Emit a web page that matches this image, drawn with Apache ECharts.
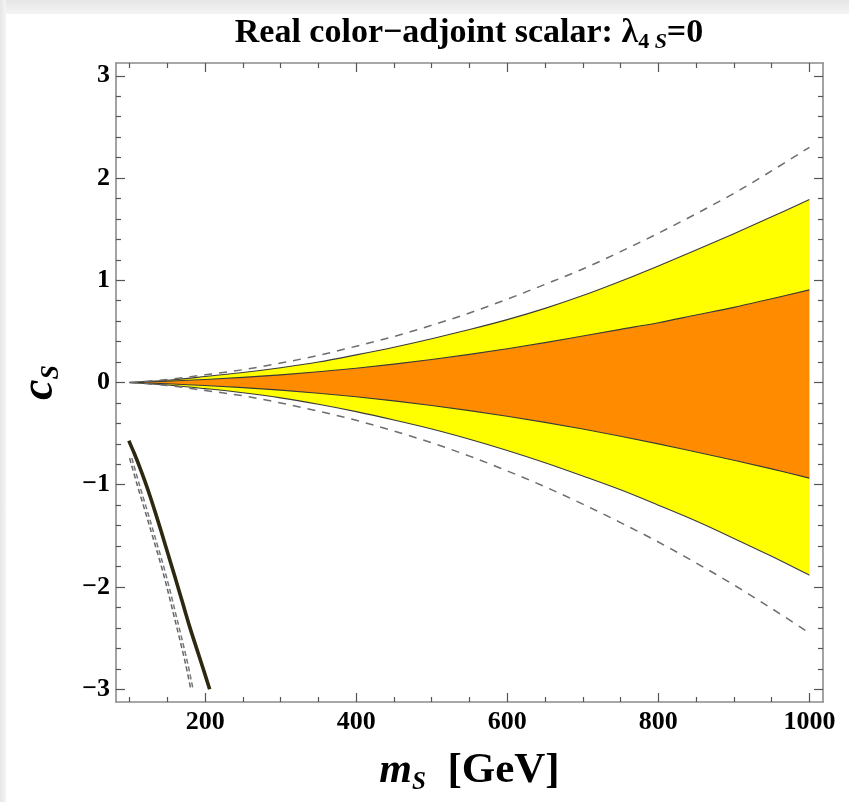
<!DOCTYPE html>
<html><head><meta charset="utf-8">
<script src="https://cdn.jsdelivr.net/npm/echarts@6/dist/echarts.min.js"></script>
<style>
html,body{margin:0;padding:0;}
body{width:849px;height:802px;background:#fff;position:relative;overflow:hidden;}
#bgTop{position:absolute;left:0;top:0;width:849px;height:14px;background:linear-gradient(#e6e6e6,#f4f4f4);}
#bgLeft{position:absolute;left:0;top:0;width:6px;height:802px;background:linear-gradient(to right,#e6e6e6,#f4f4f4);}
#chart{position:absolute;left:0;top:0;width:849px;height:802px;}
</style></head>
<body><div id="bgTop"></div><div id="bgLeft"></div><div id="chart"></div>
<script>
// ---- data ----
const mS = [100,150,200,250,300,350,400,450,500,550,600,650,700,750,800,850,900,950,1000];
const yellowTop    = [0,0.022,0.058,0.098,0.145,0.2,0.27,0.345,0.428,0.518,0.615,0.725,0.85,0.99,1.14,1.295,1.455,1.62,1.79];
const orangeTop    = [0,0.012,0.03,0.05,0.075,0.105,0.14,0.18,0.225,0.275,0.33,0.39,0.455,0.52,0.585,0.66,0.735,0.82,0.906];
const orangeBottom = [0,-0.012,-0.03,-0.05,-0.075,-0.105,-0.14,-0.18,-0.225,-0.275,-0.33,-0.39,-0.455,-0.525,-0.6,-0.68,-0.76,-0.845,-0.935];
const yellowBottom = [0,-0.024,-0.06,-0.1,-0.15,-0.213,-0.285,-0.367,-0.455,-0.555,-0.665,-0.785,-0.915,-1.05,-1.2,-1.355,-1.525,-1.7,-1.885];
const dashTop      = [0,0.03,0.075,0.125,0.19,0.265,0.355,0.45,0.56,0.68,0.815,0.96,1.11,1.28,1.46,1.65,1.85,2.07,2.3];
const dashBottom   = [0,-0.03,-0.078,-0.13,-0.2,-0.28,-0.37,-0.475,-0.59,-0.72,-0.865,-1.02,-1.19,-1.37,-1.56,-1.765,-1.98,-2.21,-2.45];

// lower-left branch
const solidLowM = [99,106,113,120,127,134,142,151,160,170,180,190,200,206];
const solidLowC = [-0.57,-0.69,-0.82,-0.96,-1.11,-1.27,-1.46,-1.68,-1.9,-2.15,-2.4,-2.63,-2.86,-3.0];
const dashLowM  = [100,110,121,131,141,150,158,166,174,181];
const dashLowC  = [-0.74,-1.0,-1.27,-1.52,-1.77,-2.02,-2.26,-2.5,-2.75,-3.0];
const dashLow2M = [103,113,124,134,144,153,161,169,177,184];
const dashLow2C = [-0.74,-1.0,-1.27,-1.52,-1.77,-2.02,-2.26,-2.5,-2.75,-3.0];

// ticks
const xMajor = [200,400,600,800,1000];
const xMinor = [100,150,250,300,350,450,500,550,650,700,750,850,900,950];
const yMajor = [-3,-2,-1,0,1,2,3];
const yMinor = [-2.8,-2.6,-2.4,-2.2,-1.8,-1.6,-1.4,-1.2,-0.8,-0.6,-0.4,-0.2,0.2,0.4,0.6,0.8,1.2,1.4,1.6,1.8,2.2,2.4,2.6,2.8];

const X_MIN = 82, X_MAX = 1018, Y_MIN = -3.125, Y_MAX = 3.125;
const FONT = '"Liberation Serif","Times New Roman",serif';
const LINE = {color:'#8c8c8c', width:1.6};
const TICK = {color:'#555', width:1.2};

function xAx(pos, ticks, len, opts){
  return Object.assign({
    type:'value', min:X_MIN, max:X_MAX, position:pos, gridIndex:0,
    axisLine:{show:true, onZero:false, lineStyle:LINE},
    axisTick:{show:true, inside:true, length:len, customValues:ticks, lineStyle:TICK},
    axisLabel:{show:false}, splitLine:{show:false}
  }, opts||{});
}
function yAx(pos, ticks, len, opts){
  return Object.assign({
    type:'value', min:Y_MIN, max:Y_MAX, position:pos, gridIndex:0,
    axisLine:{show:true, onZero:false, lineStyle:LINE},
    axisTick:{show:true, inside:true, length:len, customValues:ticks, lineStyle:TICK},
    axisLabel:{show:false}, splitLine:{show:false}
  }, opts||{});
}

// smooth (Catmull-Rom) path through pixel points obtained from the axes
function bez(pts, start){
  let d = start ? 'M' + pts[0][0] + ' ' + pts[0][1] : 'L' + pts[0][0] + ' ' + pts[0][1];
  const n = pts.length;
  for (let i = 0; i < n - 1; i++){
    const p0 = pts[Math.max(i-1,0)], p1 = pts[i], p2 = pts[i+1], p3 = pts[Math.min(i+2,n-1)];
    const c1 = [p1[0] + (p2[0]-p0[0])/6, p1[1] + (p2[1]-p0[1])/6];
    const c2 = [p2[0] - (p3[0]-p1[0])/6, p2[1] - (p3[1]-p1[1])/6];
    d += 'C' + c1[0] + ' ' + c1[1] + ' ' + c2[0] + ' ' + c2[1] + ' ' + p2[0] + ' ' + p2[1];
  }
  return d;
}
function toPx(api, xs, ys){ return xs.map((x,i)=>api.coord([x, ys[i]])); }

function band(top, bottom, color){
  return {
    type:'custom', xAxisIndex:0, yAxisIndex:0, silent:true, clip:true, z:1,
    data:[[mS[0], 0]],
    renderItem:function(params, api){
      const t = toPx(api, mS, top);
      const b = toPx(api, mS, bottom).reverse();
      const d = bez(t, true) + bez(b, false) + 'Z';
      return {type:'path', shape:{pathData:d}, style:{fill:color, stroke:null}};
    }
  };
}
function curve(xs, ys, stroke, width, dash, z){
  return {
    type:'custom', xAxisIndex:0, yAxisIndex:0, silent:true, clip:true, z:z||3,
    data:[[xs[0], ys[0]]],
    renderItem:function(params, api){
      const d = bez(toPx(api, xs, ys), true);
      return {type:'path', shape:{pathData:d},
        style:{fill:null, stroke:stroke, lineWidth:width, lineDash:dash||null, lineCap:'butt', lineJoin:'round'}};
    }
  };
}

const chart = echarts.init(document.getElementById('chart'), null, {renderer:'canvas'});
chart.setOption({
  animation:false,
  backgroundColor:'transparent',
  grid:{left:116, right:26, top:63, bottom:100, containLabel:false},
  xAxis:[
    xAx('bottom', xMajor, 9, {
      axisLabel:{show:true, customValues:xMajor, margin:7, color:'#000', fontFamily:FONT, fontWeight:'bold', fontSize:26,
        formatter:function(v){ return String(v); }},
      name:'{m|m}{s|S}{g|  [GeV]}', nameLocation:'middle', nameGap:45,
      nameTextStyle:{rich:{
        m:{fontFamily:FONT, fontStyle:'italic', fontWeight:'bold', fontSize:42, color:'#000', lineHeight:48},
        s:{fontFamily:FONT, fontStyle:'italic', fontWeight:'bold', fontSize:25, color:'#000', lineHeight:25, verticalAlign:'bottom'},
        g:{fontFamily:FONT, fontWeight:'bold', fontSize:43, color:'#000', lineHeight:48}
      }}
    }),
    xAx('bottom', xMinor, 5, {axisLine:{show:false, onZero:false}}),
    xAx('top', xMajor, 9),
    xAx('top', xMinor, 5, {axisLine:{show:false, onZero:false}})
  ],
  yAxis:[
    yAx('left', yMajor, 9, {
      axisLabel:{show:true, customValues:yMajor, margin:6, color:'#000', fontFamily:FONT, fontWeight:'bold', fontSize:26,
        formatter:function(v){ return (v<0?'\u2212':'') + Math.abs(v); }},
      name:'{c|c}{s|S}', nameLocation:'middle', nameGap:52, nameRotate:90,
      nameTextStyle:{rich:{
        c:{fontFamily:FONT, fontStyle:'italic', fontWeight:'bold', fontSize:46, color:'#000', lineHeight:48},
        s:{fontFamily:FONT, fontStyle:'italic', fontWeight:'bold', fontSize:26, color:'#000', lineHeight:26, verticalAlign:'bottom'}
      }}
    }),
    yAx('left', yMinor, 5, {axisLine:{show:false, onZero:false}}),
    yAx('right', yMajor, 9),
    yAx('right', yMinor, 5, {axisLine:{show:false, onZero:false}})
  ],
  graphic:[{
    type:'text', x:469, y:33, silent:true,
    style:{
      text:'{a|Real color\u2212adjoint scalar: \u03bb}{n|4 }{i|S}{a|=0}',
      align:'center', verticalAlign:'middle',
      rich:{
        a:{fontFamily:FONT, fontWeight:'bold', fontSize:34, color:'#000', lineHeight:40},
        n:{fontFamily:FONT, fontWeight:'bold', fontSize:22, color:'#000', lineHeight:22, verticalAlign:'bottom'},
        i:{fontFamily:FONT, fontWeight:'bold', fontStyle:'italic', fontSize:22, color:'#000', lineHeight:22, verticalAlign:'bottom'}
      }
    }
  }],
  series:[
    band(yellowTop, yellowBottom, '#ffff00'),
    band(orangeTop, orangeBottom, '#ff8c00'),
    curve(mS, yellowTop, '#3a3a3a', 1.1),
    curve(mS, orangeTop, '#3a3a3a', 1.1),
    curve(mS, orangeBottom, '#3a3a3a', 1.1),
    curve(mS, yellowBottom, '#3a3a3a', 1.1),
    curve(mS, dashTop, '#6e6e6e', 1.5, [8,7]),
    curve(mS, dashBottom, '#6e6e6e', 1.5, [8,7]),
    curve(dashLowM, dashLowC, '#666', 1.5, [5,3]),
    curve(dashLow2M, dashLow2C, '#777', 1.5, [5,3]),
    curve(solidLowM, solidLowC, '#2e2810', 3.6, null, 4)
  ]
});
</script></body></html>
